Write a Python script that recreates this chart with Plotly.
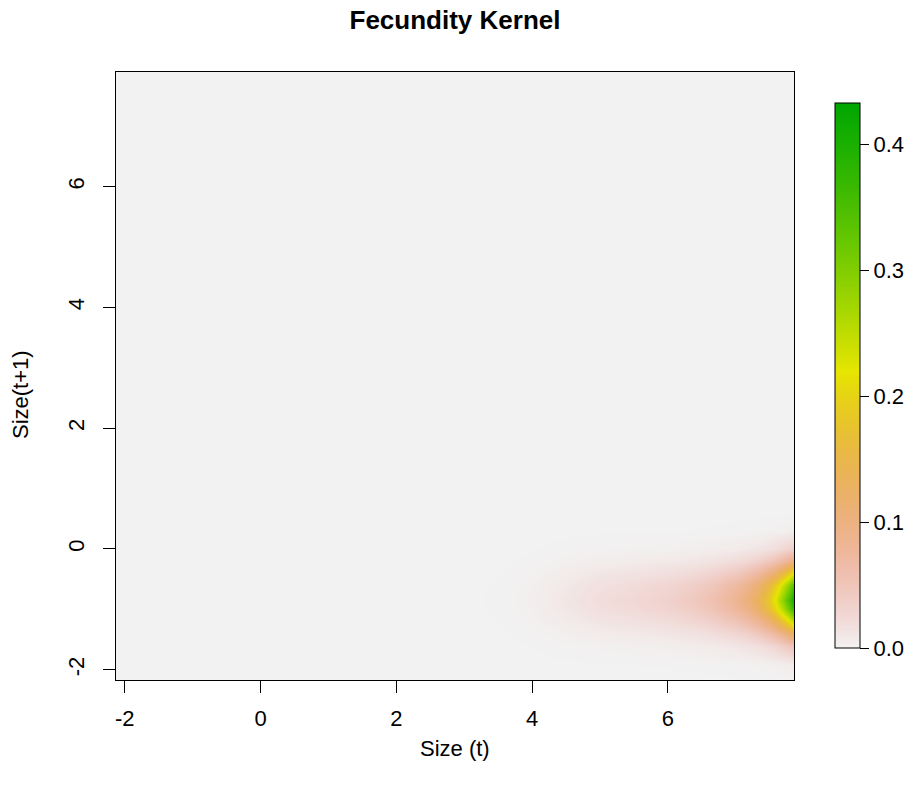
import colorsys
import numpy as np
import plotly.graph_objects as go

# Size at time t (columns of the kernel) and fecundity kernel value along the
# recruit-size mode at each size
size_t = [-2.2, 0.0, 2.0, 3.0, 3.6, 4.0, 4.3, 4.6, 5.0, 5.5, 6.0, 6.4, 6.7,
          7.0, 7.2, 7.35, 7.5, 7.6, 7.7, 7.78, 7.87]
fec_at_mode = [0.0, 0.0, 0.0, 0.0, 0.001, 0.004, 0.008, 0.013, 0.02, 0.026,
               0.034, 0.045, 0.06, 0.085, 0.11, 0.14, 0.19, 0.23, 0.29, 0.35,
               0.433]

# Size at time t+1 (rows) and relative recruit-size density
size_t1 = [-2.2, -1.9, -1.6, -1.4, -1.2, -1.0, -0.84, -0.6, -0.4, -0.2, 0.0,
           0.3, 0.6, 1.0, 7.9]
recruit_rel = [0.0015, 0.019, 0.13, 0.32, 0.62, 0.9, 1.0, 0.83, 0.53, 0.25,
               0.09, 0.012, 0.001, 0.0, 0.0]

x_ticks = [-2, 0, 2, 4, 6]
y_ticks = [-2, 0, 2, 4, 6]
cbar_ticks = [0.0, 0.1, 0.2, 0.3, 0.4]

# Separable kernel: recruit-size distribution times fecundity
kernel = np.outer(np.array(recruit_rel), np.array(fec_at_mode))


def terrain_colors(n):
    k = n // 2
    h1 = np.linspace(4 / 12, 2 / 12, k)
    s1 = np.linspace(1, 1, k)
    v1 = np.linspace(0.65, 0.9, k)
    h2 = np.linspace(2 / 12, 0, n - k + 1)[1:]
    s2 = np.linspace(1, 0, n - k + 1)[1:]
    v2 = np.linspace(0.9, 0.95, n - k + 1)[1:]
    out = []
    for h, s, v in zip(np.r_[h1, h2], np.r_[s1, s2], np.r_[v1, v2]):
        r, g, b = colorsys.hsv_to_rgb(h, s, v)
        out.append("rgb(%d,%d,%d)" % (round(r * 255), round(g * 255), round(b * 255)))
    return out


cols = terrain_colors(64)[::-1]
colorscale = [[i / (len(cols) - 1), c] for i, c in enumerate(cols)]

FONT = "Liberation Sans, Arial, Helvetica, sans-serif"
W, H = 921, 791
L, R, T, B = 116, 127, 72, 111
pw, ph = W - L - R, H - T - B
TICK_SIZE = 22

fig = go.Figure(
    go.Heatmap(
        x=size_t,
        y=size_t1,
        z=kernel,
        zmin=0,
        zmax=float(kernel.max()),
        zsmooth="best",
        colorscale=colorscale,
        colorbar=dict(
            x=(835 - L) / pw,
            xanchor="left",
            xpad=0,
            ypad=0,
            y=(T + ph - (103 + 648) / 2) / ph,
            yanchor="middle",
            len=(648 - 103) / ph,
            lenmode="fraction",
            thickness=25,
            thicknessmode="pixels",
            outlinecolor="black",
            outlinewidth=1,
            ticks="outside",
            ticklen=9,
            tickcolor="black",
            tickvals=cbar_ticks,
            ticktext=["%.1f" % v for v in cbar_ticks],
            tickfont=dict(family=FONT, size=TICK_SIZE, color="black"),
        ),
    )
)

axis_common = dict(
    showgrid=False,
    zeroline=False,
    showline=True,
    mirror=True,
    linecolor="black",
    linewidth=1,
    ticks="outside",
    ticklen=12,
    tickcolor="black",
    tickfont=dict(family=FONT, size=TICK_SIZE, color="black"),
)

fig.update_xaxes(range=[-2.13, 7.86], tickvals=x_ticks,
                 ticktext=[str(v) for v in x_ticks], ticklabelstandoff=7,
                 **axis_common)
fig.update_yaxes(range=[-2.17, 7.9], tickvals=y_ticks,
                 ticktext=[str(v) for v in y_ticks], tickangle=-90,
                 ticklabelstandoff=10, **axis_common)

fig.update_layout(
    width=W,
    height=H,
    margin=dict(l=L, r=R, t=T, b=B, pad=0),
    paper_bgcolor="white",
    plot_bgcolor="#F2F2F2",
    font=dict(family=FONT, color="black"),
    title=dict(
        text="<b>Fecundity Kernel</b>",
        x=(L + pw / 2) / W,
        xanchor="center",
        y=1 - 20 / H,
        yanchor="middle",
        font=dict(family=FONT, size=26, color="black"),
    ),
    annotations=[
        dict(text="Size (t)", xref="paper", yref="paper", x=0.5,
             y=-(748 - (T + ph)) / ph, xanchor="center", yanchor="middle",
             showarrow=False, font=dict(family=FONT, size=TICK_SIZE, color="black")),
        dict(text="Size(t+1)", xref="paper", yref="paper", x=-(L - 20) / pw,
             y=(T + ph - 395) / ph, xanchor="center", yanchor="middle",
             textangle=-90, showarrow=False,
             font=dict(family=FONT, size=TICK_SIZE, color="black")),
    ],
)

fig.write_html("out.html")
